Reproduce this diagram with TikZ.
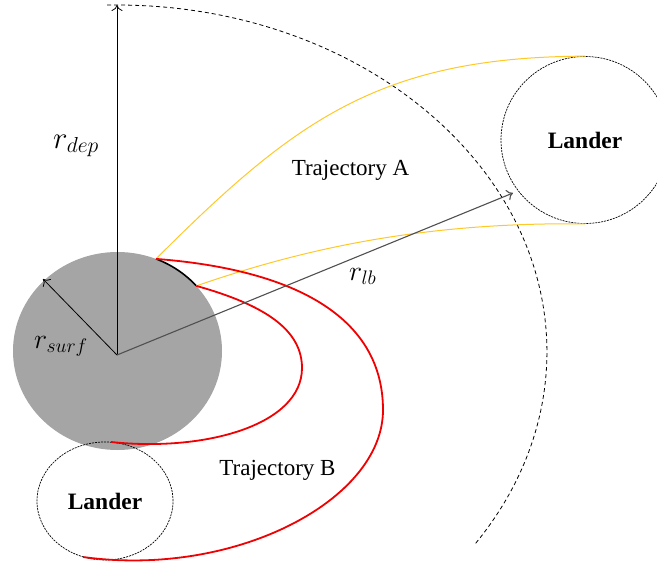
\RequirePackage{fix-cm}
\documentclass[tikz,border=0pt]{standalone}
\usepackage{fontspec}
\setmainfont{Liberation Serif}
\usetikzlibrary{arrows.meta,shapes.geometric}
\definecolor{trajA}{RGB}{255,200,40}
\definecolor{trajB}{RGB}{240,0,0}
\definecolor{planet}{RGB}{165,165,165}
\definecolor{vecgray}{RGB}{80,80,80}
\begin{document}
\begin{tikzpicture}[x=1pt,y=-1pt,
  vec/.style={-{To[length=6pt,width=11pt]}, line width=0.8pt},
  lander/.style={ellipse, draw, dash pattern=on 2pt off 1pt, line width=0.7pt, inner sep=0pt,
    font=\fontsize{23.5}{26}\selectfont\bfseries},
  txt/.style={font=\fontsize{23}{26}\selectfont, inner sep=0pt},
  mlab/.style={inner sep=0pt},
  trajAline/.style={trajA, line width=1pt},
  trajBline/.style={trajB, line width=1.8pt}]

\useasboundingbox (0,0) rectangle (657,570);
\clip (0,0) rectangle (657,570);

% planet
\fill[planet] (117.5,351) ellipse [x radius=104.5, y radius=99];

% departure radius (dashed arc)
\coordinate (arcS) at (107.2,5.1);
\draw[dash pattern=on 4pt off 3pt, line width=0.8pt] (arcS)
  arc[start angle=-91.3, end angle=33.8, x radius=430, y radius=347];

% key points
\coordinate (O) at (117,355);
\coordinate (depTip) at (117,5);
\coordinate (surfTip) at (43,279);
\coordinate (lbTip) at (513,193);
\coordinate (A1) at (156,258.9);
\coordinate (A2) at (196.3,285.9);

% landers
\node[lander, minimum width=168pt, minimum height=167pt] (LR) at (585,140) {Lander};
\node[lander, minimum width=136pt, minimum height=118pt] (LL) at (105,501) {Lander};

% surface arc
\draw[line width=1.6pt] (A1) arc[start angle=-68.4, end angle=-41.2, x radius=104.5, y radius=99];

% trajectory A
\draw[trajAline] (A1) .. controls (295,120) and (380,57) .. (LR.north);
\draw[trajAline] (A2) .. controls (300,250) and (420,222) .. (LR.south);

% trajectory B
\draw[trajBline] (A1) .. controls (300,270) and (383,320) .. (383,410)
  .. controls (383,500) and (235,578) .. (83,557);
\draw[trajBline] (A2) .. controls (265,305) and (302,330) .. (302,368)
  .. controls (302,425) and (205,452) .. (111,442);

% vectors
\draw[vec] (O) -- (depTip);
\draw[vec] (O) -- (surfTip);
\draw[vec, vecgray, line width=1.1pt] (O) -- (lbTip);

% labels
\node[mlab, anchor=base west, font=\fontsize{31}{36}\selectfont] (ldep) at (53,148) {$r_{dep}$};
\node[mlab, anchor=base west, font=\fontsize{28}{34}\selectfont] (lsurf) at (34,348) {$r_{surf}$};
\node[mlab, anchor=base west, font=\fontsize{28}{34}\selectfont] (llb) at (349,280) {$r_{lb}$};
\node[txt, anchor=base] (tA) at (350.5,175) {Trajectory A};
\node[txt, anchor=base] (tB) at (277.5,475) {Trajectory B};
\end{tikzpicture}
\end{document}
